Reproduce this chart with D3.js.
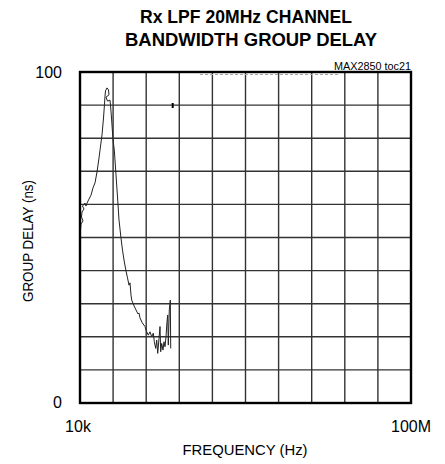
<!DOCTYPE html>
<html><head><meta charset="utf-8">
<script src="https://cdn.jsdelivr.net/npm/d3@7"></script>
<style>
html,body{margin:0;padding:0;background:#fff;}
svg{display:block;font-family:"Liberation Sans",Arial,sans-serif;}
</style></head>
<body><svg id="c" width="445" height="464"></svg>
<script>
// ---- data ----
const titleLines = ["Rx LPF 20MHz CHANNEL", "BANDWIDTH GROUP DELAY"];
const xTickValues = [1e4, 1e8];
const xTickLabels = ["10k", "100M"];
const yTickValues = [0, 100];
const yTickLabels = ["0", "100"];
const xDomain = [1e4, 1e8];
const yDomain = [0, 100];
const gridDivisions = 10;
const freqHz = [10140,10283,10871,10426,10572,11177,10720,11493,11815,12318,12847,13583,14360,15184,16050,16967,17446,18448,19231,19775,20052,20334,21200,22102,22414,20620,21496,23043,23367,24026,25054,25976,27237,28555,29607,31300,32633,34023,35972,37503,39104,40201,41333,42148,44566,47518,50225,51642,53100,56620,61030,63990,66900,70150,73550,76900,79070,82210,84530,86920,90110,92650,94460,97120,100700,103500,106500,109500,112600,114800,116700,120000,123400,124800];
const delayNs = [52.3,54.1,55.0,56.2,57.7,58.6,59.5,60.4,59.5,60.7,61.6,62.8,65.0,66.5,69.8,74.0,76.4,81.0,86.1,90.3,92.7,94.3,95.2,94.6,93.1,92.4,91.2,91.5,90.0,86.1,79.5,76.4,68.9,61.3,55.3,49.8,46.2,43.2,39.9,37.8,35.6,36.3,32.6,31.1,29.6,28.1,26.9,27.2,25.7,24.2,23.1,21.5,20.5,21.5,20.0,21.1,18.5,16.5,19.0,15.0,19.5,23.1,15.5,18.0,16.0,18.5,17.0,20.0,24.6,26.6,17.5,28.1,31.1,16.5];

// ---- layout ----
const L = 80, R = 411, T = 72, B = 403;
const svg = d3.select("#c");
const x = d3.scaleLog().domain(xDomain).range([L, R]);
const y = d3.scaleLinear().domain(yDomain).range([B, T]);

// title
const tpos = [[246, 22.5, 212], [251, 46, 252]];
titleLines.forEach((t, i) => {
  svg.append("text").attr("x", tpos[i][0]).attr("y", tpos[i][1])
    .attr("text-anchor", "middle").attr("font-size", 18).attr("font-weight", "bold")
    .attr("textLength", tpos[i][2]).attr("lengthAdjust", "spacingAndGlyphs")
    .text(t);
});
svg.append("text").attr("x", 411).attr("y", 70).attr("text-anchor", "end")
  .attr("font-size", 10).attr("textLength", 77).attr("lengthAdjust", "spacingAndGlyphs")
  .text("MAX2850 toc21");

// grid
const lx = Math.log10(xDomain[0]), hx = Math.log10(xDomain[1]);
const gx = d3.range(1, gridDivisions).map(i => Math.pow(10, lx + (hx - lx) * i / gridDivisions));
const gy = d3.range(1, gridDivisions).map(i => yDomain[0] + (yDomain[1] - yDomain[0]) * i / gridDivisions);
const g = svg.append("g").attr("stroke", "#333").attr("stroke-width", 1.4);
g.selectAll(".vx").data(gx).join("line").attr("x1", d => x(d)).attr("x2", d => x(d)).attr("y1", T).attr("y2", B);
g.selectAll(".hy").data(gy).join("line").attr("y1", d => y(d)).attr("y2", d => y(d)).attr("x1", L).attr("x2", R);

// faint marks along top
svg.append("line").attr("x1", 200).attr("x2", 340).attr("y1", 74.5).attr("y2", 74.5)
  .attr("stroke", "#aaa").attr("stroke-width", 1).attr("stroke-dasharray", "3,2");
// small marker
svg.append("line").attr("x1", 172.7).attr("x2", 172.7).attr("y1", 103).attr("y2", 108)
  .attr("stroke", "#000").attr("stroke-width", 2);

// trace
const pts = freqHz.map((f, i) => [f, delayNs[i]]);
svg.append("path").datum(pts)
  .attr("d", d3.line().x(d => x(d[0])).y(d => y(d[1])))
  .attr("fill", "none").attr("stroke", "#222").attr("stroke-width", 1);

// border
svg.append("rect").attr("x", L).attr("y", T).attr("width", R - L).attr("height", B - T)
  .attr("fill", "none").attr("stroke", "#000").attr("stroke-width", 2.4);

// x tick labels (end labels, nudged as in reference)
const xNudge = [-2, 0];
svg.append("g").selectAll("text").data(xTickValues).join("text")
  .attr("x", (d, i) => x(d) + xNudge[i]).attr("y", 432)
  .attr("text-anchor", "middle").attr("font-size", 16).attr("fill", "#000")
  .text((d, i) => xTickLabels[i]);

// y tick labels
svg.append("g").selectAll("text").data(yTickValues).join("text")
  .attr("x", 62).attr("y", d => y(d) + (d === 0 ? -1 : 0)).attr("dy", "0.35em")
  .attr("text-anchor", "end").attr("font-size", 16).attr("fill", "#000")
  .text((d, i) => yTickLabels[i]);

// axis titles
svg.append("text").attr("x", 245).attr("y", 455).attr("text-anchor", "middle")
  .attr("font-size", 14.5).attr("textLength", 125).attr("lengthAdjust", "spacingAndGlyphs")
  .text("FREQUENCY (Hz)");
svg.append("text").attr("transform", "translate(33,241) rotate(-90)").attr("text-anchor", "middle")
  .attr("font-size", 14.5).attr("textLength", 122).attr("lengthAdjust", "spacingAndGlyphs")
  .text("GROUP DELAY (ns)");
</script></body></html>
